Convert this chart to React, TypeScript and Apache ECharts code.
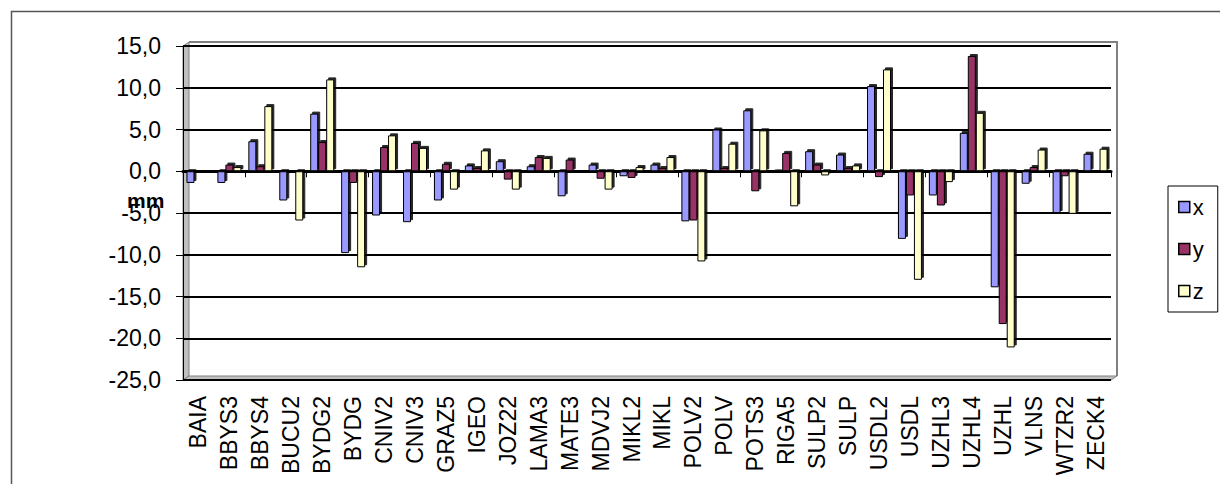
import React, { useEffect, useRef } from "react";
import * as echarts from "echarts";

const categories = ["BAIA","BBYS3","BBYS4","BUCU2","BYDG2","BYDG","CNIV2","CNIV3","GRAZ5","IGEO","JOZ22","LAMA3","MATE3","MDVJ2","MIKL2","MIKL","POLV2","POLV","POTS3","RIGA5","SULP2","SULP","USDL2","USDL","UZHL3","UZHL4","UZHL","VLNS","WTZR2","ZECK4"];
const xValues = [-1.4,-1.4,3.6,-3.5,6.9,-9.8,-5.3,-6.1,-3.5,0.7,1.2,0.6,-3.0,0.8,-0.6,0.8,-6.0,5.0,7.3,0.2,2.4,2.0,10.2,-8.1,-2.9,4.6,-13.9,-1.5,-5.0,2.1];
const yValues = [0,0.8,0.6,0,3.5,-1.4,2.9,3.4,0.9,0.4,-1.0,1.7,1.4,-0.9,-0.8,0.4,-5.9,0.4,-2.4,2.2,0.8,0.4,-0.7,-2.9,-4.1,13.8,-18.3,0.5,-0.6,0];
const zValues = [0,0.5,7.8,-5.9,11.0,-11.5,4.3,2.8,-2.2,2.5,-2.2,1.6,0,-2.2,0.5,1.7,-10.8,3.3,4.9,-4.2,-0.5,0.7,12.2,-13.0,-1.3,7.0,-21.1,2.6,-5.1,2.7];
const seriesNames = ["x", "y", "z"];
const yTicks = { min: -25, max: 15, interval: 5 };

const FONT = "Liberation Sans, Arial, sans-serif";

export default function App() {
  const ref = useRef<HTMLDivElement>(null);
  useEffect(() => {
    if (!ref.current) return;
    const chart = echarts.init(ref.current, null, { renderer: "svg" });
    const colors = ["#9999FF", "#993366", "#FFFFCC"];
    const dataSets = [xValues, yValues, zValues];
    const L = 183, T = 46, R = 1111, B = 380, D = 6;
    chart.setOption({
      animation: false,
      textStyle: { fontFamily: FONT },
      grid: {
        left: L,
        top: T,
        right: 1220 - R,
        bottom: 484 - B,
        show: false,
      },
      legend: {
        orient: "vertical",
        left: 1168,
        top: 186,
        padding: [10, 14, 10, 10],
        itemGap: 20,
        itemWidth: 11,
        itemHeight: 11,
        icon: "rect",
        borderColor: "#000",
        borderWidth: 1,
        data: seriesNames,
        textStyle: { fontFamily: FONT, fontSize: 22, color: "#000", padding: [0, 0, 0, -2] },
        itemStyle: { borderColor: "#000", borderWidth: 1.5 },
      },
      xAxis: [
        {
          type: "category",
          data: categories,
          position: "bottom",
          axisLine: { onZero: false, show: false },
          axisTick: { show: false },
          axisLabel: {
            rotate: 90,
            interval: 0,
            fontFamily: FONT,
            fontSize: 23,
            color: "#000",
            margin: 16,
          },
          splitLine: { show: false },
        },
        {
          type: "category",
          data: categories,
          position: "bottom",
          axisLine: { onZero: true, show: true, lineStyle: { color: "#000", width: 3 } },
          axisTick: { show: true, length: 6, lineStyle: { color: "#000", width: 1 } },
          axisLabel: { show: false },
          splitLine: { show: false },
        },
      ],
      yAxis: {
        type: "value",
        min: yTicks.min,
        max: yTicks.max,
        interval: yTicks.interval,
        axisLine: { show: true, lineStyle: { color: "#000", width: 1 } },
        axisTick: { show: true, length: 7, lineStyle: { color: "#000" } },
        axisLabel: {
          fontFamily: FONT,
          fontSize: 23,
          color: "#000",
          margin: 22,
          formatter: (v: number) => v.toFixed(1).replace(".", ","),
        },
        splitLine: { show: true, lineStyle: { color: "#000", width: 2 } },
      },
      series: seriesNames.map((name, i) => ({
        name,
        type: "bar",
        xAxisIndex: 0,
        data: dataSets[i],
        barWidth: 8,
        barGap: "0%",
        itemStyle: {
          color: colors[i],
          borderColor: "#000",
          borderWidth: 1,
          shadowColor: "rgba(0,0,0,0.85)",
          shadowOffsetX: 2,
          shadowOffsetY: -2,
          shadowBlur: 0,
        },
      })),
      graphic: [
        {
          type: "rect",
          left: 9,
          top: 9,
          shape: { width: 1300, height: 600 },
          style: { fill: "none", stroke: "#555", lineWidth: 1.5 },
          silent: true,
          z: -10,
        },
        {
          type: "polygon",
          shape: { points: [[L, T], [L + D, T - 4], [L + D, B - 4], [L, B]] },
          style: { fill: "#C0C0C0", stroke: "#808080", lineWidth: 1 },
          silent: true,
          z: -5,
        },
        {
          type: "polygon",
          shape: { points: [[L, B], [L + D, B - 4], [R + D, B - 4], [R, B]] },
          style: { fill: "#C0C0C0", stroke: "#808080", lineWidth: 1 },
          silent: true,
          z: -5,
        },
        {
          type: "polyline",
          shape: { points: [[L + D, T - 4], [R + D, T - 4], [R + D, B - 4]] },
          style: { fill: "none", stroke: "#808080", lineWidth: 2 },
          silent: true,
          z: -5,
        },
        {
          type: "line",
          shape: { x1: L, y1: B, x2: R, y2: B },
          style: { stroke: "#000", lineWidth: 1.5 },
          silent: true,
          z: 5,
        },
        {
          type: "text",
          left: 127,
          top: 190,
          style: { text: "mm", font: "bold 21px " + FONT, fill: "#000" },
          z: 10,
        },
      ],
    });
    return () => chart.dispose();
  }, []);
  return (
    <div
      ref={ref}
      style={{ position: "absolute", left: 0, top: 0, width: 1220, height: 484, background: "#fff" }}
    />
  );
}
